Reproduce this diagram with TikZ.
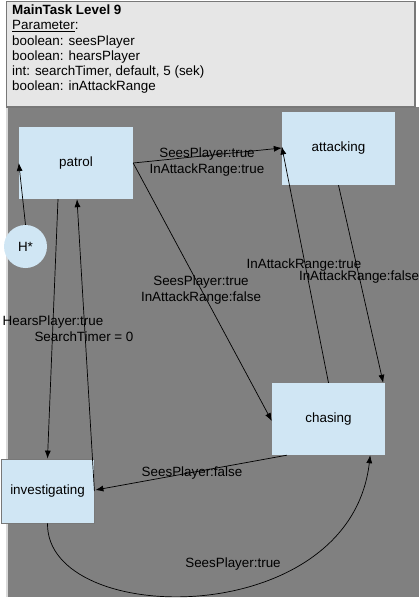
\documentclass[tikz,border=0pt]{standalone}
\usepackage{fontspec}
\setmainfont{Liberation Sans}
\usepackage{tikz}
\usetikzlibrary{arrows.meta, calc, positioning}
\usepackage{xcolor}
\definecolor{stateblue}{RGB}{208,230,244}
\definecolor{areagrey}{RGB}{128,128,128}
\definecolor{headgrey}{RGB}{230,230,230}
\definecolor{framegrey}{RGB}{120,120,120}

\begin{document}
\begin{tikzpicture}[x=1pt, y=-1pt,
  font=\fontsize{13.4}{15.3}\selectfont,
  state/.style={fill=stateblue, minimum width=114pt, minimum height=72pt, inner sep=0pt},
  trans/.style={draw=black, line width=0.7pt, -{Latex[length=8pt,width=6pt]}},
  lbl/.style={inner sep=0pt, align=center}]
% Frame
\useasboundingbox (0,0) rectangle (419,600);
\fill[areagrey] (8,107) rectangle (419,597);
\draw[white!85!black, line width=1.2pt] (7,107) -- (7,597);
\draw[framegrey, fill=headgrey, line width=1.2pt] (6.5,1.5) rectangle (415,107);

% Header text
\node[anchor=north west, align=left, inner sep=0pt] (head) at (12,4.5)
  {\textbf{MainTask Level 9}\\
   \underline{Parameter}:\\
   boolean: seesPlayer\\
   boolean: hearsPlayer\\
   int: searchTimer, default, 5 (sek)\\
   boolean: inAttackRange};

% States
\node[state] (patrol) at (76,163) {patrol};
\node[state, minimum width=113pt, minimum height=73pt] (attacking) at (338.5,148.5) {attacking};
\node[state, minimum width=113pt] (chasing) at (328.5,419) {chasing};
\node[state, draw=framegrey, line width=0.8pt, minimum width=93pt, minimum height=64pt] (investigating) at (47.5,491) {investigating};
\node[circle, fill=stateblue, minimum size=43pt, inner sep=0pt] (hstar) at (25.5,246.5) {H*};

% Transitions
\draw[trans] (hstar.north) -- ([yshift=0pt]patrol.west);
\draw[trans] (patrol.east) -- ([yshift=0.5pt]attacking.west);
\draw[trans] (patrol.east) -- ([yshift=-2pt]chasing.west);
\draw[trans] ([xshift=-18pt]patrol.south) -- (investigating.north);
\draw[trans] (investigating.east) -- ([xshift=1pt]patrol.south);
\draw[trans] (attacking.south) -- ([xshift=-2pt]chasing.north east);
\draw[trans] (chasing.north) -- ([yshift=2pt]attacking.west);
\draw[trans] ([xshift=15pt]chasing.south west) -- ([xshift=1pt,yshift=1pt]investigating.east);
\draw[trans] (investigating.south) .. controls (46,628) and (350,632) .. ([xshift=-15pt]chasing.south east);

% Labels
\node[lbl] (l-pa) at (207,162) {SeesPlayer:true\\InAttackRange:true};
\node[lbl] (l-pc) at (201,290) {SeesPlayer:true\\InAttackRange:false};
\node[lbl] (l-hear) at (53,322) {HearsPlayer:true};
\node[lbl] (l-timer) at (84,337) {SearchTimer = 0};
\node[lbl] (l-ca) at (304,265) {InAttackRange:true};
\node[lbl] (l-ac) at (359,277) {InAttackRange:false};
\node[lbl] (l-ci) at (192,473) {SeesPlayer:false};
\node[lbl] (l-ic) at (233,564) {SeesPlayer:true};

\end{tikzpicture}
\end{document}
